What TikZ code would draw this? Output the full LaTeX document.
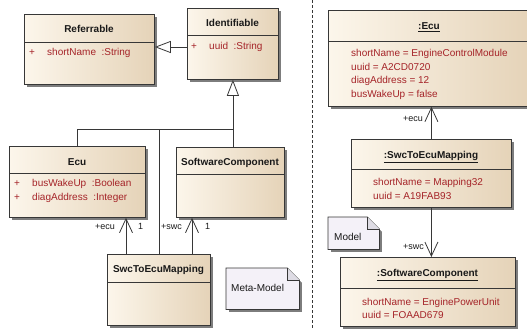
\documentclass[tikz,border=0pt]{standalone}
\usepackage{fontspec}
\setmainfont{Liberation Sans}
\usetikzlibrary{arrows.meta,shadows}

\definecolor{boxleft}{RGB}{252,246,235}
\definecolor{boxright}{RGB}{229,211,184}
\definecolor{edge}{RGB}{55,55,55}
\definecolor{ink}{RGB}{25,25,25}
\definecolor{attrred}{RGB}{165,35,40}
\definecolor{notefill}{RGB}{244,241,248}
\definecolor{foldfill}{RGB}{222,220,228}
\definecolor{shade}{RGB}{125,125,125}

\begin{document}
\begin{tikzpicture}[x=1pt,y=-1pt,
    umlbox/.style={draw=edge, line width=0.8pt, left color=boxleft,
      right color=boxright, anchor=north west, inner sep=0pt,
      drop shadow={shadow xshift=2.5pt, shadow yshift=-2.5pt,
        fill=shade, opacity=1}},
    notebox/.style={fill=notefill, anchor=north west, inner sep=0pt,
      drop shadow={shadow xshift=2.5pt, shadow yshift=-2.5pt,
        fill=shade, opacity=1}},
    title/.style={anchor=base, font=\bfseries, text=ink},
    attr/.style={anchor=base west, inner sep=0pt, text=attrred},
    role/.style={inner sep=0pt, text=ink, font=\fontsize{9}{11}\selectfont},
    link/.style={draw=edge, line width=0.8pt},
    generalize/.style={link, -{Triangle[length=16pt, width=12pt, fill=white]}},
    assoc/.style={link, -{Straight Barb[length=14pt, width=13pt]}},
    divider/.style={draw=edge, line width=0.8pt, dash pattern=on 3pt off 2pt}
  ]
  \clip (0,0) rectangle (527,329);

  % meta-model side
  \node[umlbox, minimum width=130, minimum height=70] (referrable) at (24,14) {};
  \draw[link] (referrable.west |- 0,42) -- (referrable.east |- 0,42);
  \node[title] at (89,32.5) {Referrable};
  \node[attr] at (29,55.5) {+};
  \node[attr] at (47,55.5) {shortName\ \ :String};

  \node[umlbox, minimum width=91, minimum height=71] (identifiable) at (187,8) {};
  \draw[link] (identifiable.west |- 0,35) -- (identifiable.east |- 0,35);
  \node[title] at (232.5,26.5) {Identifiable};
  \node[attr] at (191,49.5) {+};
  \node[attr] at (209,49.5) {uuid\ \ :String};

  \node[umlbox, minimum width=136, minimum height=71] (ecu) at (9,146) {};
  \draw[link] (ecu.west |- 0,173) -- (ecu.east |- 0,173);
  \node[title] at (77,165.5) {Ecu};
  \node[attr] at (14,186.5) {+};
  \node[attr] at (14,200.5) {+};
  \node[attr] at (32,186.5) {busWakeUp\ \ :Boolean};
  \node[attr] at (32,200.5) {diagAddress\ \ :Integer};

  \node[umlbox, minimum width=108, minimum height=70] (swc) at (176,147) {};
  \draw[link] (swc.west |- 0,174) -- (swc.east |- 0,174);
  \node[title] at (230,165.5) {SoftwareComponent};

  \node[umlbox, minimum width=103, minimum height=71] (mapping) at (107,254) {};
  \draw[link] (mapping.west |- 0,282) -- (mapping.east |- 0,282);
  \node[title] at (158.5,272.5) {SwcToEcuMapping};

  \node[notebox, minimum width=73, minimum height=41] (metanote) at (226,268) {};
  \fill[white] ([xshift=-12pt]metanote.north east) -- ([xshift=4pt]metanote.north east)
    -- ([xshift=4pt,yshift=-16pt]metanote.north east) -- cycle;
  \draw[link] (metanote.north west) -- ([xshift=-12pt]metanote.north east)
    -- ([yshift=-12pt]metanote.north east) -- (metanote.south east)
    -- (metanote.south west) -- cycle;
  \draw[link, fill=foldfill] ([xshift=-12pt]metanote.north east)
    -- ([xshift=-12pt,yshift=-12pt]metanote.north east) -- ([yshift=-12pt]metanote.north east);
  \node[anchor=base west, inner sep=0pt, text=ink] at (231,291.5) {Meta-Model};

  % inheritance tree
  \coordinate (fork) at (identifiable.south |- 0,129);
  \draw[generalize] (identifiable.west |- 0,47) -- (referrable.east |- 0,47);
  \draw[link] (ecu.north) |- (fork);
  \draw[link] (mapping.north) -- (mapping.north |- fork);
  \draw[generalize] (identifiable.south |- swc.north) -- (identifiable.south);

  % associations
  \draw[assoc] (126,0 |- mapping.north) -- (126,0 |- ecu.south);
  \draw[assoc] (192,0 |- mapping.north) -- (192,0 |- swc.south);
  \node[role, anchor=base east] at (115,229.5) {+ecu};
  \node[role, anchor=base west] at (138,229.5) {1};
  \node[role, anchor=base east] at (182,229.5) {+swc};
  \node[role, anchor=base west] at (205,229.5) {1};

  \draw[divider] (312,0) -- (312,329);

  % model side
  \node[umlbox, minimum width=202, minimum height=96] (ecuobj) at (328,10) {};
  \draw[link] (ecuobj.west |- 0,41) -- (ecuobj.east |- 0,41);
  \node[title] at (429,29.5) {\underline{:Ecu}};
  \foreach \t [count=\i from 0] in {shortName = EngineControlModule, uuid = A2CD0720,
      diagAddress = 12, busWakeUp = false}
    \node[attr] at (351,56.5+13.7*\i) {\t};

  \node[umlbox, minimum width=160, minimum height=68] (mappingobj) at (351,139) {};
  \draw[link] (mappingobj.west |- 0,169) -- (mappingobj.east |- 0,169);
  \node[title] at (431,158.5) {\underline{:SwcToEcuMapping}};
  \foreach \t [count=\i from 0] in {shortName = Mapping32, uuid = A19FAB93}
    \node[attr] at (373,185.5+13.5*\i) {\t};

  \node[umlbox, minimum width=175, minimum height=69] (swcobj) at (340,257) {};
  \draw[link] (swcobj.west |- 0,288) -- (swcobj.east |- 0,288);
  \node[title] at (427.5,276.5) {\underline{:SoftwareComponent}};
  \foreach \t [count=\i from 0] in {shortName = EnginePowerUnit, uuid = FOAAD679}
    \node[attr] at (362,305.5+12.5*\i) {\t};

  \node[notebox, minimum width=51, minimum height=32] (modelnote) at (328,217) {};
  \fill[white] ([xshift=-12pt]modelnote.north east) -- ([xshift=4pt]modelnote.north east)
    -- ([xshift=4pt,yshift=-16pt]modelnote.north east) -- cycle;
  \draw[link] (modelnote.north west) -- ([xshift=-12pt]modelnote.north east)
    -- ([yshift=-12pt]modelnote.north east) -- (modelnote.south east)
    -- (modelnote.south west) -- cycle;
  \draw[link, fill=foldfill] ([xshift=-12pt]modelnote.north east)
    -- ([xshift=-12pt,yshift=-12pt]modelnote.north east) -- ([yshift=-12pt]modelnote.north east);
  \node[anchor=base west, inner sep=0pt, text=ink] at (334,240.5) {Model};

  \draw[assoc] (mappingobj.north) -- (mappingobj.north |- ecuobj.south);
  \draw[assoc] (mappingobj.south) -- (mappingobj.south |- swcobj.north);
  \node[role, anchor=base east] at (423,121.5) {+ecu};
  \node[role, anchor=base east] at (424,249.5) {+swc};
\end{tikzpicture}
\end{document}
